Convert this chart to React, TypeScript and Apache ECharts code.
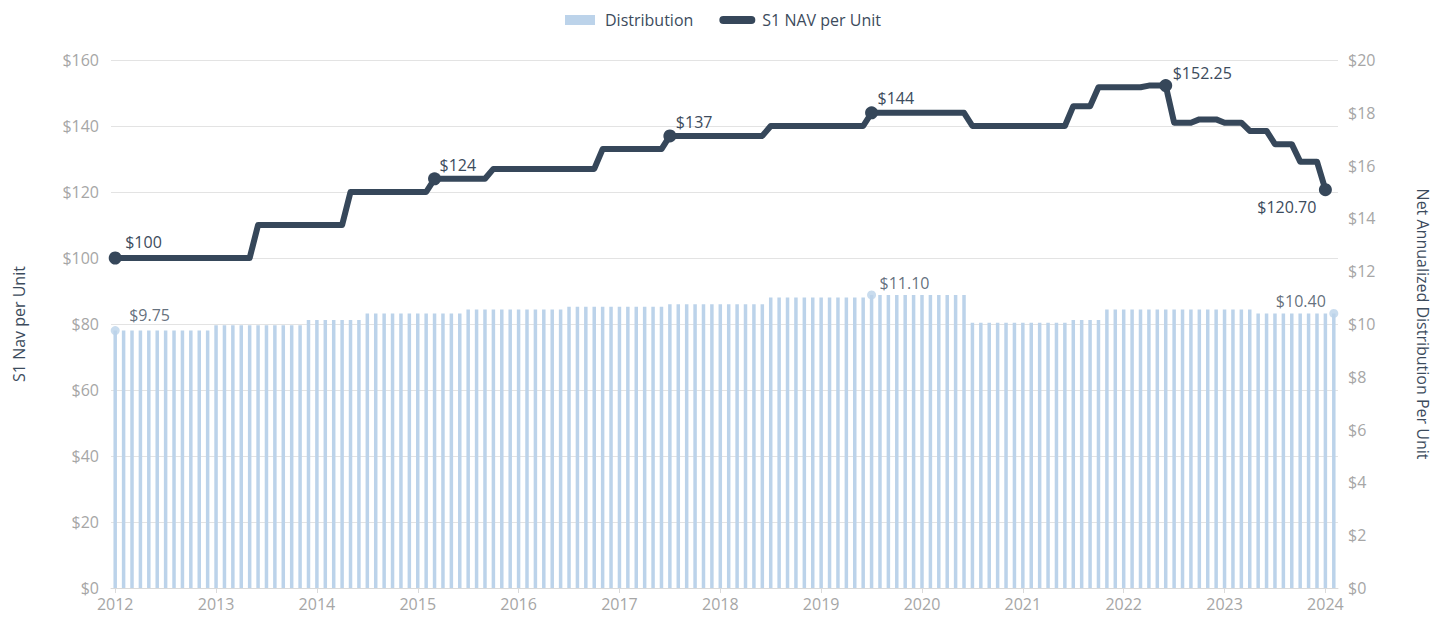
import React, { useEffect, useRef } from 'react';
import * as echarts from 'echarts';

// ---------- DATA ----------
const firstYear = 2012;
const lastYear = 2024;
const lastMonthOfLastYear = 2; // data runs through Feb 2024

// Month categories (YYYY-MM)
const months: string[] = [];
for (let y = firstYear; y <= lastYear; y++) {
  const mMax = y === lastYear ? lastMonthOfLastYear : 12;
  for (let m = 1; m <= mMax; m++) months.push(`${y}-${m < 10 ? '0' + m : m}`);
}

// Net annualized distribution per unit (monthly bars, right axis)
const distribution: number[] = [
  // 2012
  9.75, 9.75, 9.75, 9.75, 9.75, 9.75, 9.75, 9.75, 9.75, 9.75, 9.75, 9.75,
  // 2013
  9.95, 9.95, 9.95, 9.95, 9.95, 9.95, 9.95, 9.95, 9.95, 9.95, 9.95, 10.15,
  // 2014
  10.15, 10.15, 10.15, 10.15, 10.15, 10.15, 10.4, 10.4, 10.4, 10.4, 10.4, 10.4,
  // 2015
  10.4, 10.4, 10.4, 10.4, 10.4, 10.4, 10.55, 10.55, 10.55, 10.55, 10.55, 10.55,
  // 2016
  10.55, 10.55, 10.55, 10.55, 10.55, 10.55, 10.65, 10.65, 10.65, 10.65, 10.65, 10.65,
  // 2017
  10.65, 10.65, 10.65, 10.65, 10.65, 10.65, 10.75, 10.75, 10.75, 10.75, 10.75, 10.75,
  // 2018
  10.75, 10.75, 10.75, 10.75, 10.75, 10.75, 11.0, 11.0, 11.0, 11.0, 11.0, 11.0,
  // 2019
  11.0, 11.0, 11.0, 11.0, 11.0, 11.0, 11.1, 11.1, 11.1, 11.1, 11.1, 11.1,
  // 2020
  11.1, 11.1, 11.1, 11.1, 11.1, 11.1, 10.05, 10.05, 10.05, 10.05, 10.05, 10.05,
  // 2021
  10.05, 10.05, 10.05, 10.05, 10.05, 10.05, 10.15, 10.15, 10.15, 10.15, 10.55, 10.55,
  // 2022
  10.55, 10.55, 10.55, 10.55, 10.55, 10.55, 10.55, 10.55, 10.55, 10.55, 10.55, 10.55,
  // 2023
  10.55, 10.55, 10.55, 10.55, 10.4, 10.4, 10.4, 10.4, 10.4, 10.4, 10.4, 10.4,
  // 2024
  10.4, 10.4,
];

// S1 NAV per unit (monthly, left axis)
const nav: number[] = [
  // 2012
  100, 100, 100, 100, 100, 100, 100, 100, 100, 100, 100, 100,
  // 2013
  100, 100, 100, 100, 100, 110, 110, 110, 110, 110, 110, 110,
  // 2014
  110, 110, 110, 110, 120, 120, 120, 120, 120, 120, 120, 120,
  // 2015
  120, 120, 124, 124, 124, 124, 124, 124, 124, 127, 127, 127,
  // 2016
  127, 127, 127, 127, 127, 127, 127, 127, 127, 127, 133, 133,
  // 2017
  133, 133, 133, 133, 133, 133, 137, 137, 137, 137, 137, 137,
  // 2018
  137, 137, 137, 137, 137, 137, 140, 140, 140, 140, 140, 140,
  // 2019
  140, 140, 140, 140, 140, 140, 144, 144, 144, 144, 144, 144,
  // 2020
  144, 144, 144, 144, 144, 144, 140, 140, 140, 140, 140, 140,
  // 2021
  140, 140, 140, 140, 140, 140, 146, 146, 146, 151.75, 151.75, 151.75,
  // 2022
  151.75, 151.75, 151.75, 152.25, 152.25, 152.25, 141, 141, 141, 142, 142, 142,
  // 2023
  141, 141, 141, 138.5, 138.5, 138.5, 134.5, 134.5, 134.5, 129.2, 129.2, 129.2,
  // 2024
  120.7,
];

// Annotated points
const navMarkIdx = [0, 38, 66, 90, 125, 144];
const navMarkText = ['$100', '$124', '$137', '$144', '$152.25', '$120.70'];
const distMarkIdx = [0, 90, 145];
const distMarkText = ['$9.75', '$11.10', '$10.40'];

// Axis ticks
const leftTicks = { min: 0, max: 160, interval: 20 };
const rightTicks = { min: 0, max: 20, interval: 2 };

// ---------- STYLE ----------
const FONT = '"Open Sans", "Noto Sans", sans-serif';
const GRAY = '#a6a6a6';
const DARK = '#3c4b5c';
const LINE = '#36475a';
const BAR = '#bcd3ea';
const GRID = '#e3e3e3';

const navLabelPos: { align: string; offset: number[] }[] = [
  { align: 'left', offset: [10, -16] },
  { align: 'left', offset: [5, -14] },
  { align: 'left', offset: [6, -14] },
  { align: 'left', offset: [6, -15] },
  { align: 'left', offset: [7, -13] },
  { align: 'right', offset: [-9, 17] },
];
const distLabelPos: { align: string; offset: number[] }[] = [
  { align: 'left', offset: [14, -16] },
  { align: 'left', offset: [8, -12] },
  { align: 'right', offset: [-8, -12] },
];

export default function App() {
  const ref = useRef<HTMLDivElement>(null);

  useEffect(() => {
    if (!ref.current) return;
    const chart = echarts.init(ref.current, undefined, { renderer: 'svg' });

    const navData = nav.map((v, i) => {
      const k = navMarkIdx.indexOf(i);
      if (k < 0) return v;
      return {
        value: v,
        symbol: 'circle',
        symbolSize: 13,
        label: {
          show: true,
          formatter: navMarkText[k],
          position: 'inside',
          align: navLabelPos[k].align,
          verticalAlign: 'middle',
          offset: navLabelPos[k].offset,
          color: DARK,
          fontSize: 16,
          fontFamily: FONT,
        },
      };
    });

    const distDots = distribution.map((v, i) => {
      const k = distMarkIdx.indexOf(i);
      if (k < 0) return '-';
      return {
        value: v,
        label: {
          show: true,
          formatter: distMarkText[k],
          position: 'inside',
          align: distLabelPos[k].align,
          verticalAlign: 'middle',
          offset: distLabelPos[k].offset,
          color: DARK,
          fontSize: 16,
          fontFamily: FONT,
        },
      };
    });

    const isYearStart = (i: number) => i % 12 === 0;

    chart.setOption({
      animation: false,
      textStyle: { fontFamily: FONT },
      legend: {
        left: 555,
        top: 7,
        itemWidth: 40,
        itemHeight: 10,
        itemGap: 24,
        data: [
          { name: 'Distribution', icon: 'path://M0,0M40,10M5,0H35V10H5Z' },
          {
            name: 'S1 NAV per Unit',
            icon: 'path://M0,0M40,10M6,1H34A4,4,0,0,1,34,9H6A4,4,0,0,1,6,1Z',
          },
        ],
        textStyle: { color: DARK, fontSize: 16, fontFamily: FONT },
      },
      grid: { left: 111, right: 97, top: 60, bottom: 31 },
      xAxis: {
        type: 'category',
        data: months,
        boundaryGap: true,
        axisLine: { lineStyle: { color: '#dadada', width: 1 } },
        axisTick: {
          show: true,
          alignWithLabel: true,
          interval: isYearStart,
          length: 5,
          lineStyle: { color: '#dadada' },
        },
        axisLabel: {
          interval: isYearStart,
          formatter: (v: string) => v.slice(0, 4),
          color: GRAY,
          fontSize: 16,
          fontFamily: FONT,
          margin: 8,
        },
        splitLine: { show: false },
      },
      yAxis: [
        {
          type: 'value',
          min: leftTicks.min,
          max: leftTicks.max,
          interval: leftTicks.interval,
          position: 'left',
          name: 'S1 Nav per Unit',
          nameLocation: 'middle',
          nameRotate: 90,
          nameGap: 84,
          nameTextStyle: { color: DARK, fontSize: 16, fontFamily: FONT },
          axisLine: { show: false },
          axisTick: { show: false },
          axisLabel: { formatter: '${value}', color: GRAY, fontSize: 16, fontFamily: FONT, margin: 12 },
          splitLine: { show: true, lineStyle: { color: GRID, width: 1 } },
        },
        {
          type: 'value',
          min: rightTicks.min,
          max: rightTicks.max,
          interval: rightTicks.interval,
          position: 'right',
          name: 'Net Annualized Distribution Per Unit',
          nameLocation: 'middle',
          nameRotate: -90,
          nameGap: 77,
          nameTextStyle: { color: DARK, fontSize: 16, fontFamily: FONT },
          axisLine: { show: false },
          axisTick: { show: false },
          axisLabel: { formatter: '${value}', color: GRAY, fontSize: 16, fontFamily: FONT, margin: 10 },
          splitLine: { show: false },
        },
      ],
      series: [
        {
          name: 'Distribution',
          type: 'bar',
          yAxisIndex: 1,
          data: distribution,
          barWidth: 3.5,
          itemStyle: { color: BAR },
          color: BAR,
          z: 1,
        },
        {
          name: 'distMarks',
          type: 'scatter',
          yAxisIndex: 1,
          data: distDots,
          symbol: 'circle',
          symbolSize: 9,
          itemStyle: { color: BAR },
          z: 2,
        },
        {
          name: 'S1 NAV per Unit',
          type: 'line',
          yAxisIndex: 0,
          data: navData,
          symbol: 'none',
          showAllSymbol: true,
          color: LINE,
          lineStyle: { width: 6, color: LINE, cap: 'round', join: 'round' },
          itemStyle: { color: LINE },
          z: 3,
        },
      ],
    });

    return () => chart.dispose();
  }, []);

  return (
    <div
      ref={ref}
      style={{ position: 'absolute', left: 0, top: 0, width: 1439, height: 619 }}
    />
  );
}
